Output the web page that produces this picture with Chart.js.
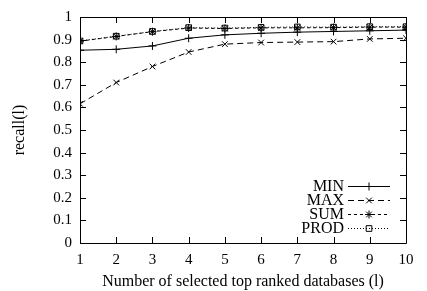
<!DOCTYPE html>
<html>
<head>
<meta charset="utf-8">
<script src="https://cdn.jsdelivr.net/npm/chart.js@4.4.1/dist/chart.umd.min.js"></script>
<style>
  html, body { margin: 0; padding: 0; background: #fff; }
  #wrap { width: 427px; height: 291px; }
</style>
</head>
<body>
<div id="wrap"><canvas id="myChart"></canvas></div>
<script>
// number of selected top ranked databases
const topL = [1, 2, 3, 4, 5, 6, 7, 8, 9, 10];

const minRecall  = [0.853, 0.857, 0.872, 0.906, 0.921, 0.928, 0.933, 0.936, 0.939, 0.942];
const maxRecall  = [0.616, 0.710, 0.781, 0.845, 0.880, 0.887, 0.889, 0.891, 0.903, 0.906];
const sumRecall  = [0.893, 0.914, 0.935, 0.951, 0.949, 0.952, 0.952, 0.953, 0.955, 0.955];
const prodRecall = [0.894, 0.915, 0.936, 0.953, 0.951, 0.954, 0.956, 0.955, 0.957, 0.957];

const yTickLabels = ['0', '0.1', '0.2', '0.3', '0.4', '0.5', '0.6', '0.7', '0.8', '0.9', '1'];

const FONT = '"Liberation Serif", "DejaVu Serif", serif';
const FS = 15;
const FT = 16;

const series = [
	{label: 'MIN',  data: minRecall,  pointStyle: 'cross',    dash: []},
	{label: 'MAX',  data: maxRecall,  pointStyle: 'crossRot', dash: [6, 4]},
	{label: 'SUM',  data: sumRecall,  pointStyle: 'star',     dash: [3, 3]},
	{label: 'PROD', data: prodRecall, pointStyle: 'rect',     dash: [1, 2]},
];

const datasets = series.map(s => ({
	label: s.label,
	data: topL.map((x, i) => ({x: x, y: s.data[i]})),
	borderColor: '#000',
	backgroundColor: 'rgba(0,0,0,0)',
	borderWidth: 1,
	borderDash: s.dash,
	pointStyle: s.pointStyle,
	pointRadius: 4,
	pointBorderWidth: 1,
	pointBorderColor: '#000',
	pointBackgroundColor: 'rgba(0,0,0,0)',
	tension: 0,
}));

// gnuplot-ish frame: inward ticks on all four sides, plus key inside the plot
const framePlugin = {
	id: 'frame',
	afterDatasetsDraw(chart) {
		const ctx = chart.ctx;
		const a = chart.chartArea;
		const xs = chart.scales.x, ys = chart.scales.y;
		const tl = 6;
		ctx.save();
		ctx.strokeStyle = '#000';
		ctx.lineWidth = 1;
		ctx.setLineDash([]);
		ctx.beginPath();
		ctx.rect(Math.round(a.left) + 0.5, Math.round(a.top) + 0.5,
			Math.round(a.right - a.left), Math.round(a.bottom - a.top));
		topL.forEach(v => {
			const px = Math.round(xs.getPixelForValue(v)) + 0.5;
			ctx.moveTo(px, a.bottom); ctx.lineTo(px, a.bottom - tl);
			ctx.moveTo(px, a.top); ctx.lineTo(px, a.top + tl);
		});
		yTickLabels.forEach((t, i) => {
			const py = Math.round(ys.getPixelForValue(i / 10)) + 0.5;
			ctx.moveTo(a.left, py); ctx.lineTo(a.left + tl, py);
			ctx.moveTo(a.right, py); ctx.lineTo(a.right - tl, py);
		});
		ctx.stroke();

		// key
		ctx.font = FT + 'px ' + FONT;
		ctx.textAlign = 'right';
		ctx.textBaseline = 'middle';
		const rows = [186, 200, 214, 228];
		series.forEach((s, i) => {
			const y = rows[i] + 0.5;
			ctx.fillStyle = '#000';
			ctx.fillText(s.label, 344, rows[i] + 1);
			ctx.beginPath();
			ctx.setLineDash(s.dash);
			ctx.moveTo(348, y); ctx.lineTo(390, y);
			ctx.stroke();
			ctx.setLineDash([]);
			ctx.fillStyle = 'rgba(0,0,0,0)';
			Chart.helpers.drawPoint(ctx, {pointStyle: s.pointStyle, radius: 4, borderWidth: 1}, 369, y);
		});
		ctx.restore();
	}
};

const config = {
	type: 'line',
	data: {datasets: datasets},
	options: {
		responsive: false,
		animation: false,
		devicePixelRatio: 1,
		layout: {padding: {top: 7, right: 21, left: 0, bottom: 0}},
		plugins: {
			legend: {display: false},
			tooltip: {enabled: false},
		},
		scales: {
			x: {
				type: 'linear',
				min: 1, max: 10,
				grid: {display: false, drawTicks: false},
				border: {display: false},
				ticks: {
					stepSize: 1,
					padding: 8,
					color: '#000',
					font: {family: FONT, size: FS},
					maxRotation: 0,
				},
				title: {
					display: true,
					text: 'Number of selected top ranked databases (l)',
					color: '#000',
					font: {family: FONT, size: FT},
					padding: {top: 0, bottom: 0},
				},
				afterFit: s => { s.height = 48; },
			},
			y: {
				min: 0, max: 1,
				grid: {display: false, drawTicks: false},
				border: {display: false},
				ticks: {
					stepSize: 0.1,
					padding: 8,
					color: '#000',
					font: {family: FONT, size: FS},
					callback: (v) => yTickLabels[Math.round(v * 10)],
				},
				title: {
					display: true,
					text: 'recall(l)',
					color: '#000',
					font: {family: FONT, size: FT},
					padding: {top: 10, bottom: 4},
				},
				afterFit: s => { s.width = 80; },
			},
		},
	},
	plugins: [framePlugin],
};

const canvas = document.getElementById('myChart');
canvas.width = 427;
canvas.height = 291;
const chartt = new Chart(canvas, config);
</script>
</body>
</html>
